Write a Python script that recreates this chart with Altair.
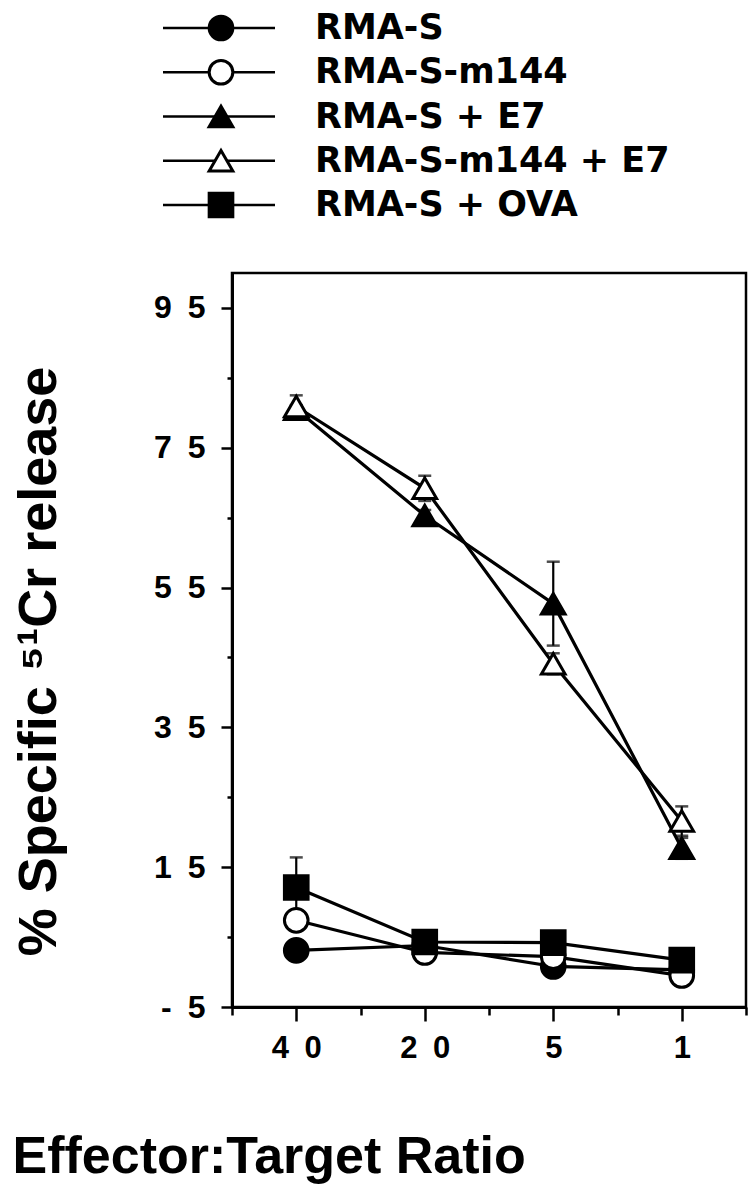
import json
import altair as alt
import pandas as pd

# ---------------- data ----------------
ratios = ["40", "20", "5", "1"]
series = ["RMA-S", "RMA-S-m144", "RMA-S + E7", "RMA-S-m144 + E7", "RMA-S + OVA"]

rma_s = [3.1, 3.8, 0.8, 0.3]
rma_s_err = [0.5, 0.5, 0.5, 0.5]
rma_s_m144 = [7.4, 2.8, 2.2, -0.5]
rma_s_m144_err = [1.0, 0.5, 0.5, 0.5]
rma_s_e7 = [80.5, 65.3, 52.7, 17.7]
rma_s_e7_err = [0.6, 0.8, 6.0, 1.5]
rma_s_m144_e7 = [80.9, 69.2, 44.1, 21.6]
rma_s_m144_e7_err = [1.6, 1.8, 1.5, 2.1]
rma_s_ova = [12.1, 4.3, 4.2, 1.7]
rma_s_ova_err = [4.3, 0.5, 0.5, 0.5]

y_ticks = [-5, 5, 15, 25, 35, 45, 55, 65, 75, 85, 95]
x_ticks = [-0.5, 0, 0.5, 1, 1.5, 2, 2.5, 3, 3.5]

# ---------------- styles ----------------
shapes = ["circle", "circle", "triangle-up", "triangle-up", "square"]
fills = ["black", "white", "black", "white", "black"]
sizes = [560, 560, 700, 700, 600]
FONT = "Liberation Sans"
LEG_FONT = "DejaVu Sans"
SP = "\u2002"

values = [rma_s, rma_s_m144, rma_s_e7, rma_s_m144_e7, rma_s_ova]
errors = [rma_s_err, rma_s_m144_err, rma_s_e7_err, rma_s_m144_e7_err, rma_s_ova_err]
rows = []
for s, vals, errs in zip(series, values, errors):
    for i, (r, v, e) in enumerate(zip(ratios, vals, errs)):
        rows.append({"series": s, "idx": i, "ratio": r, "value": v,
                     "lo": v - e, "hi": v + e})
df = pd.DataFrame(rows)
legend_df = pd.DataFrame({"series": series})

x_labels = [SP.join(r) for r in ratios]

x_scale = alt.Scale(domain=[-0.5, 3.5], nice=False, zero=False)
y_scale = alt.Scale(domain=[-5, 100], nice=False, zero=False)

x_axis = alt.Axis(
    orient="bottom", values=x_ticks, grid=False,
    tickSize={"condition": {"test": "datum.value % 1 == 0", "value": 14}, "value": 8},
    tickWidth=2.5, tickColor="black", domainColor="black", domainWidth=3,
    labelExpr="datum.value % 1 == 0 ? " + json.dumps(x_labels, ensure_ascii=False) + "[datum.value] : ''",
    labelFont=FONT, labelFontSize=31, labelFontWeight="bold", labelColor="black",
    labelPadding=12, labelFlush=False, labelOverlap=False, labelBound=False,
    title="Effector:Target Ratio", titleFont=FONT, titleFontSize=52,
    titleFontWeight="bold", titleColor="black", titleX=-220, titleY=165,
    titleAlign="left", titleBaseline="alphabetic", titleAnchor="start",
)
y_axis = alt.Axis(
    orient="left", values=y_ticks, grid=False,
    tickSize={"condition": {"test": "(datum.value + 5) % 20 == 0", "value": 11}, "value": 5},
    tickWidth=2.5, tickColor="black", domainColor="black", domainWidth=3,
    labelExpr="(datum.value + 5) % 20 == 0 ? join(split(toString(datum.value), ''), '" + SP + "') : ''",
    labelFont=FONT, labelFontSize=32, labelFontWeight="bold", labelColor="black",
    labelPadding=16, labelFlush=False, labelOverlap=False, labelBound=False,
    title="% Specific \u2075\u00b9Cr release", titleFont=FONT, titleFontSize=54,
    titleFontWeight="bold", titleColor="black", titleAngle=-90,
    titleX=-177, titleY=388, titleAlign="center", titleBaseline="alphabetic",
)

X = alt.X("idx:Q", scale=x_scale, axis=x_axis)
Y = alt.Y("value:Q", scale=y_scale, axis=y_axis)
SH = alt.Shape("series:N", scale=alt.Scale(domain=series, range=shapes), legend=None)
FI = alt.Fill("series:N", scale=alt.Scale(domain=series, range=fills), legend=None)
SZ = alt.Size("series:N", scale=alt.Scale(domain=series, range=sizes), legend=None)

base = alt.Chart(df)
lines = base.mark_line(color="black", strokeWidth=3.2).encode(x=X, y=Y, detail="series:N")
err = base.mark_rule(color="black", strokeWidth=2.2).encode(
    x=X, y=alt.Y("lo:Q", scale=y_scale, axis=y_axis), y2="hi:Q")
cap_hi = base.mark_tick(orient="horizontal", size=13, thickness=2.5, color="black").encode(
    x=X, y=alt.Y("hi:Q", scale=y_scale, axis=y_axis))
cap_lo = base.mark_tick(orient="horizontal", size=13, thickness=2.5, color="black").encode(
    x=X, y=alt.Y("lo:Q", scale=y_scale, axis=y_axis))
points = base.mark_point(filled=True, stroke="black", strokeWidth=3, opacity=1).encode(
    x=X, y=Y, shape=SH, fill=FI, size=SZ)

main = alt.layer(lines, err, cap_hi, cap_lo, points)

LY = alt.Y("series:N", scale=alt.Scale(type="point", domain=series, range=[-245, -68], padding=0),
           axis=None)
leg_base = alt.Chart(legend_df)
leg_rule = leg_base.mark_rule(color="black", strokeWidth=2.5).encode(
    y=LY, x=alt.value(-69), x2=alt.value(43))
leg_pts = leg_base.mark_point(filled=True, stroke="black", strokeWidth=3, opacity=1).encode(
    y=LY, x=alt.value(-11), shape=SH, fill=FI, size=SZ)
leg_txt = leg_base.mark_text(align="left", baseline="middle", font=LEG_FONT, fontSize=35,
                             fontWeight="bold", color="black").encode(
    y=LY, x=alt.value(83), text="series:N")
legend = alt.layer(leg_rule, leg_pts, leg_txt)

chart = alt.layer(main, legend).resolve_scale(y="independent").properties(
    width=514, height=734,
    padding={"left": 224, "top": 265, "right": 2, "bottom": 185},
    autosize=alt.AutoSizeParams(type="none"),
    background="white",
).configure_view(stroke="black", strokeWidth=2.5)

chart.save("out.html", embed_options={"renderer": "svg", "actions": False})
